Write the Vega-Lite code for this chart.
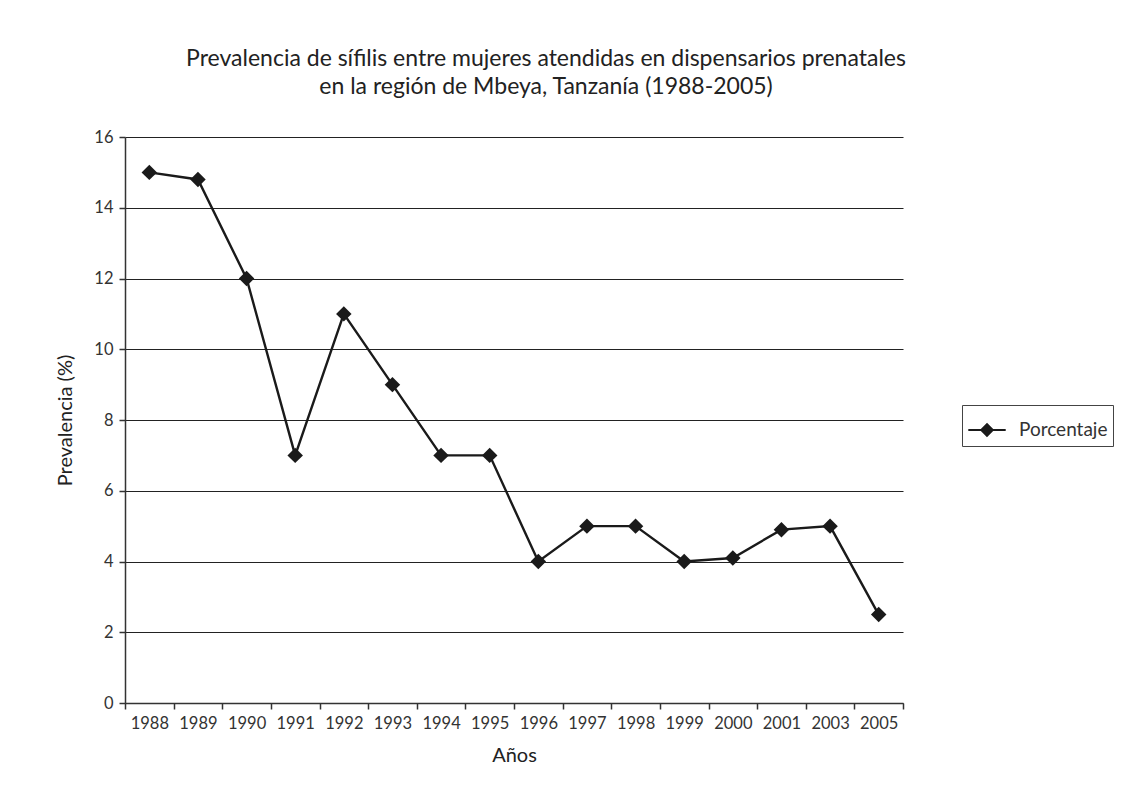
{
  "$schema": "https://vega.github.io/schema/vega-lite/v6.json",
  "width": 778,
  "height": 566,
  "padding": {"left": 55, "top": 48, "right": 10, "bottom": 10},
  "background": "white",
  "title": {
    "text": ["Prevalencia de sífilis entre mujeres atendidas en dispensarios prenatales", "en la región de Mbeya, Tanzanía (1988-2005)"],
    "font": "Lato",
    "fontSize": 23,
    "fontWeight": "normal",
    "color": "#222222",
    "anchor": "middle",
    "dx": 32,
    "lineHeight": 28,
    "offset": 30
  },
  "data": {
    "values": [
      {"anio": "1988", "valor": 15, "serie": "Porcentaje"},
      {"anio": "1989", "valor": 14.8, "serie": "Porcentaje"},
      {"anio": "1990", "valor": 12, "serie": "Porcentaje"},
      {"anio": "1991", "valor": 7, "serie": "Porcentaje"},
      {"anio": "1992", "valor": 11, "serie": "Porcentaje"},
      {"anio": "1993", "valor": 9, "serie": "Porcentaje"},
      {"anio": "1994", "valor": 7, "serie": "Porcentaje"},
      {"anio": "1995", "valor": 7, "serie": "Porcentaje"},
      {"anio": "1996", "valor": 4, "serie": "Porcentaje"},
      {"anio": "1997", "valor": 5, "serie": "Porcentaje"},
      {"anio": "1998", "valor": 5, "serie": "Porcentaje"},
      {"anio": "1999", "valor": 4, "serie": "Porcentaje"},
      {"anio": "2000", "valor": 4.1, "serie": "Porcentaje"},
      {"anio": "2001", "valor": 4.9, "serie": "Porcentaje"},
      {"anio": "2003", "valor": 5, "serie": "Porcentaje"},
      {"anio": "2005", "valor": 2.5, "serie": "Porcentaje"}
    ]
  },
  "mark": {
    "type": "line",
    "strokeWidth": 2.4,
    "point": {"shape": "diamond", "size": 240, "filled": true, "opacity": 1}
  },
  "encoding": {
    "x": {
      "field": "anio",
      "type": "ordinal",
      "sort": null,
      "scale": {"type": "band", "paddingInner": 0, "paddingOuter": 0},
      "axis": {
        "title": "Años",
        "labelAngle": 0,
        "tickBand": "extent",
        "grid": false,
        "domainColor": "#333333",
        "tickColor": "#333333",
        "tickSize": 6,
        "labelPadding": 6,
        "titlePadding": 14
      }
    },
    "y": {
      "field": "valor",
      "type": "quantitative",
      "scale": {"domain": [0, 16]},
      "axis": {
        "title": "Prevalencia (%)",
        "values": [0, 2, 4, 6, 8, 10, 12, 14, 16],
        "grid": true,
        "gridColor": "#222222",
        "gridOpacity": 1,
        "gridWidth": 1.2,
        "domainColor": "#333333",
        "tickColor": "#333333",
        "tickSize": 6,
        "labelPadding": 6,
        "titlePadding": 18
      }
    },
    "color": {
      "field": "serie",
      "type": "nominal",
      "scale": {"range": ["#1a1a1a"]},
      "legend": {
        "title": null,
        "orient": "none",
        "legendX": 837,
        "legendY": 268,
        "strokeColor": "#444444",
        "padding": 5,
        "symbolType": "M-1,0L1,0M0,-0.3L0.3,0L0,0.3L-0.3,0Z",
        "symbolSize": 1400,
        "symbolStrokeWidth": 2.2,
        "symbolFillColor": "#1a1a1a",
        "symbolStrokeColor": "#1a1a1a",
        "labelFontSize": 19,
        "labelFont": "Lato",
        "labelColor": "#333333",
        "labelOffset": 12
      }
    }
  },
  "config": {
    "view": {"stroke": null},
    "axis": {
      "labelFont": "Lato",
      "labelFontSize": 16.5,
      "labelColor": "#333333",
      "titleFont": "Lato",
      "titleFontSize": 20,
      "titleFontWeight": "normal",
      "titleColor": "#222222",
      "domainWidth": 1.5,
      "tickWidth": 1.5
    }
  }
}
